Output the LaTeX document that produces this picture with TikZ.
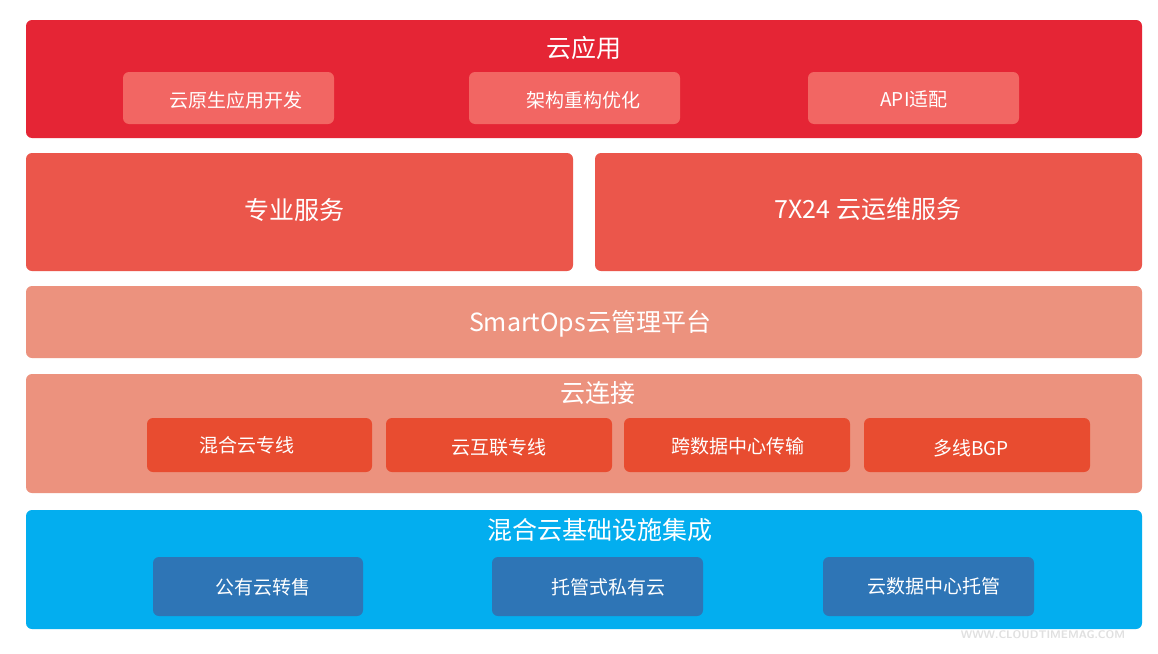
\documentclass[tikz,border=0pt]{standalone}
\usepackage{fontspec}
\setmainfont{Noto Sans CJK SC}
\definecolor{cred}{HTML}{E52535}
\definecolor{cpink}{HTML}{F26663}
\definecolor{cmid}{HTML}{EB564B}
\definecolor{csalmon}{HTML}{EC927E}
\definecolor{corange}{HTML}{E84C30}
\definecolor{cblue}{HTML}{03AEEF}
\definecolor{cdblue}{HTML}{2E75B6}
\begin{document}
\begin{tikzpicture}[x=1pt,y=-1pt,
  box/.style={rounded corners=6pt,inner sep=0pt},
  big/.style={text=white,font=\fontsize{25}{28}\selectfont},
  small/.style={text=white,font=\fontsize{19}{22}\selectfont}]
\fill[white] (0,0) rectangle (1158,653);
\useasboundingbox (0,0) rectangle (1158,653);
% top
\fill[box,cred] (26,20) rectangle (1142,138);
\node[big] (t1) at (584,48) {云应用};
\fill[box,cpink] (123,72) rectangle (334,124);
\node[small] (a1) at (236,100) {云原生应用开发};
\fill[box,cpink] (469,72) rectangle (680,124);
\node[small] (a2) at (583,100) {架构重构优化};
\fill[box,cpink] (808,72) rectangle (1019,124);
\node[small] (a3) at (914,99) {API适配};
% row 2
\fill[box,cmid] (26,153) rectangle (573,271);
\node[big] (s1) at (294,210) {专业服务};
\fill[box,cmid] (595,153) rectangle (1142,271);
\node[big] (s2) at (868,209) {7X24 云运维服务};
% smartops
\fill[box,csalmon] (26,286) rectangle (1142,358);
\node[big] (sm) at (590,324) {SmartOps云管理平台};
% connect
\fill[box,csalmon] (26,374) rectangle (1142,493);
\node[big] (c0) at (598,393) {云连接};
\fill[box,corange] (147,418) rectangle (372,472);
\node[small] (c1) at (247,445) {混合云专线};
\fill[box,corange] (386,418) rectangle (612,472);
\node[small] (c2) at (499,447) {云互联专线};
\fill[box,corange] (624,418) rectangle (850,472);
\node[small] (c3) at (738,446) {跨数据中心传输};
\fill[box,corange] (864,418) rectangle (1090,472);
\node[small] (c4) at (971,448) {多线BGP};
% bottom
\fill[box,cblue] (26,510) rectangle (1142,629);
\node[big] (b0) at (600,530) {混合云基础设施集成};
\fill[box,cdblue] (153,557) rectangle (363,616);
\node[small] (b1) at (263,587) {公有云转售};
\fill[box,cdblue] (492,557) rectangle (703,616);
\node[small] (b2) at (608,587) {托管式私有云};
\fill[box,cdblue] (823,557) rectangle (1034,616);
\node[small] (b3) at (934,586) {云数据中心托管};
\node[text=black!12,font=\sffamily\bfseries\fontsize{11}{12}\selectfont] (wm) at (1043,635) {WWW.CLOUDTIMEMAG.COM};
\end{tikzpicture}
\end{document}
